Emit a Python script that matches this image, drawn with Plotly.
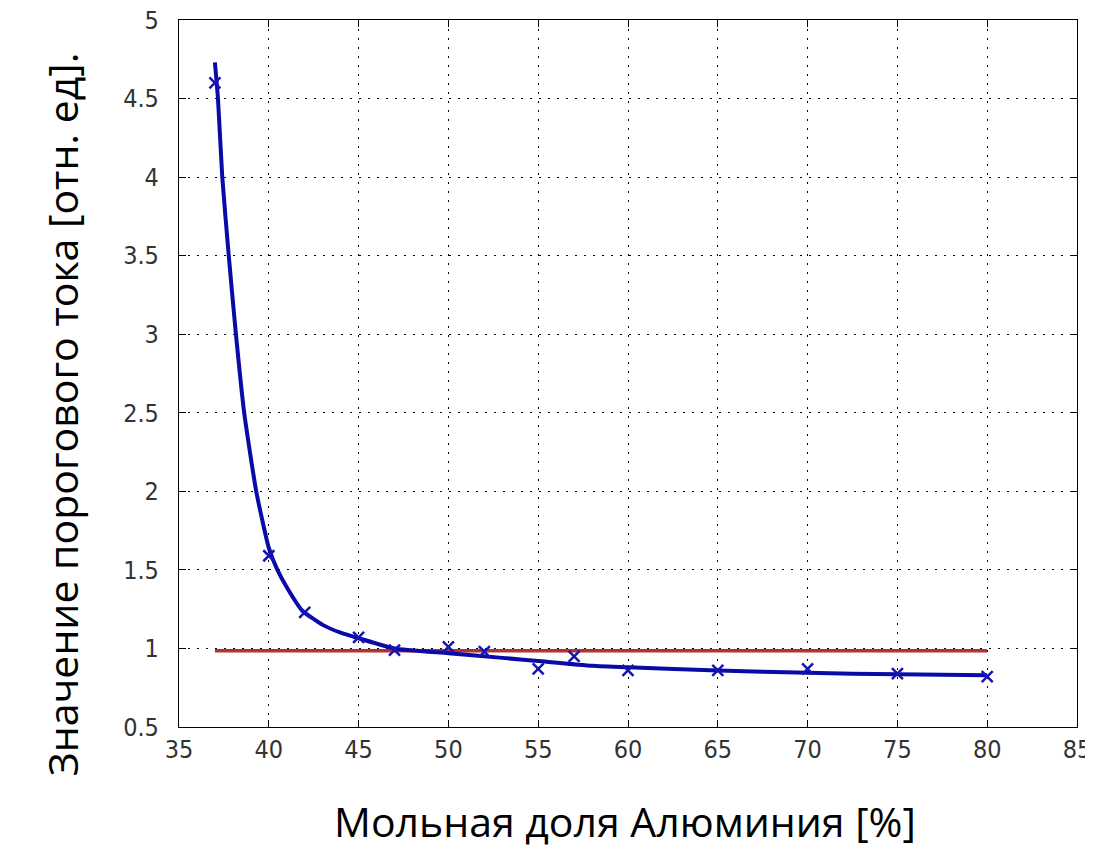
import plotly.graph_objects as go

# Measured data points (x markers)
x_points = [37, 40, 42, 45, 47, 50, 52, 55, 57, 60, 65, 70, 75, 80]
y_points = [4.60, 1.59, 1.23, 1.07, 0.99, 1.01, 0.98, 0.87, 0.95, 0.86, 0.86, 0.87, 0.84, 0.82]

# Fitted curve
x_fit = [37.0, 37.17, 37.41, 37.77, 38.17, 38.63, 39.30, 40.0, 40.48, 41.0, 41.87,
         43.0, 44.0, 45.0, 47.0, 50.0, 53.0, 55.0, 58.0, 60.0, 65.0, 70.0, 75.0, 80.0]
y_fit = [4.73, 4.50, 4.00, 3.50, 3.00, 2.50, 2.00, 1.64, 1.50, 1.39, 1.24,
         1.15, 1.10, 1.065, 1.00, 0.97, 0.94, 0.92, 0.89, 0.88, 0.86, 0.845, 0.835, 0.83]

# Reference (threshold) level
x_ref = [37, 80]
y_ref = [0.985, 0.985]

x_ticks = [35, 40, 45, 50, 55, 60, 65, 70, 75, 80, 85]
y_ticks = [0.5, 1, 1.5, 2, 2.5, 3, 3.5, 4, 4.5, 5]
y_tick_text = ["0.5", "1", "1.5", "2", "2.5", "3", "3.5", "4", "4.5", "5"]

fig = go.Figure()
fig.add_trace(go.Scatter(x=x_ref, y=y_ref, mode="lines",
                         line=dict(color="#b03232", width=3.5), showlegend=False))
fig.add_trace(go.Scatter(x=x_fit, y=y_fit, mode="lines",
                         line=dict(color="#0a0aa8", width=4, shape="spline", smoothing=0.5),
                         showlegend=False))
fig.add_trace(go.Scatter(x=x_points, y=y_points, mode="markers",
                         marker=dict(symbol="x-thin-open", size=11, color="#1515b5",
                                     line=dict(color="#1515b5", width=2.5)),
                         showlegend=False))

tick_font = dict(family="Liberation Sans Narrow, DejaVu Sans Condensed, Liberation Sans",
                 size=25, color="#333333")

axis_common = dict(
    showline=True, linecolor="black", linewidth=1.2, mirror="ticks",
    ticks="inside", ticklen=7, tickcolor="black",
    showgrid=True, gridcolor="black", gridwidth=1, griddash="1.5px,7.5px",
    zeroline=False, ticklabeloverflow="allow", automargin=False,
    tickfont=tick_font,
)

fig.update_xaxes(range=[35, 85], tickvals=x_ticks, ticklabelstandoff=0, **axis_common)
fig.update_yaxes(range=[0.5, 5], tickvals=y_ticks, ticktext=y_tick_text,
                 ticklabelstandoff=14, **axis_common)

fig.update_layout(
    width=1077, height=846,
    margin=dict(l=171, r=8, t=12, b=127, autoexpand=False),
    plot_bgcolor="white", paper_bgcolor="white",
    annotations=[
        dict(text="Мольная доля Алюминия [%]", xref="paper", yref="paper",
             x=0.497, y=-0.176, xanchor="center", yanchor="bottom", showarrow=False,
             font=dict(family="Open Sans", size=41, color="black")),
        dict(text="Значение порогового тока [отн. ед].", xref="paper", yref="paper",
             x=-0.131, y=0.443, xanchor="center", yanchor="middle", showarrow=False,
             textangle=-90, font=dict(family="Open Sans", size=41, color="black")),
    ],
)

fig.write_html("out.html")
